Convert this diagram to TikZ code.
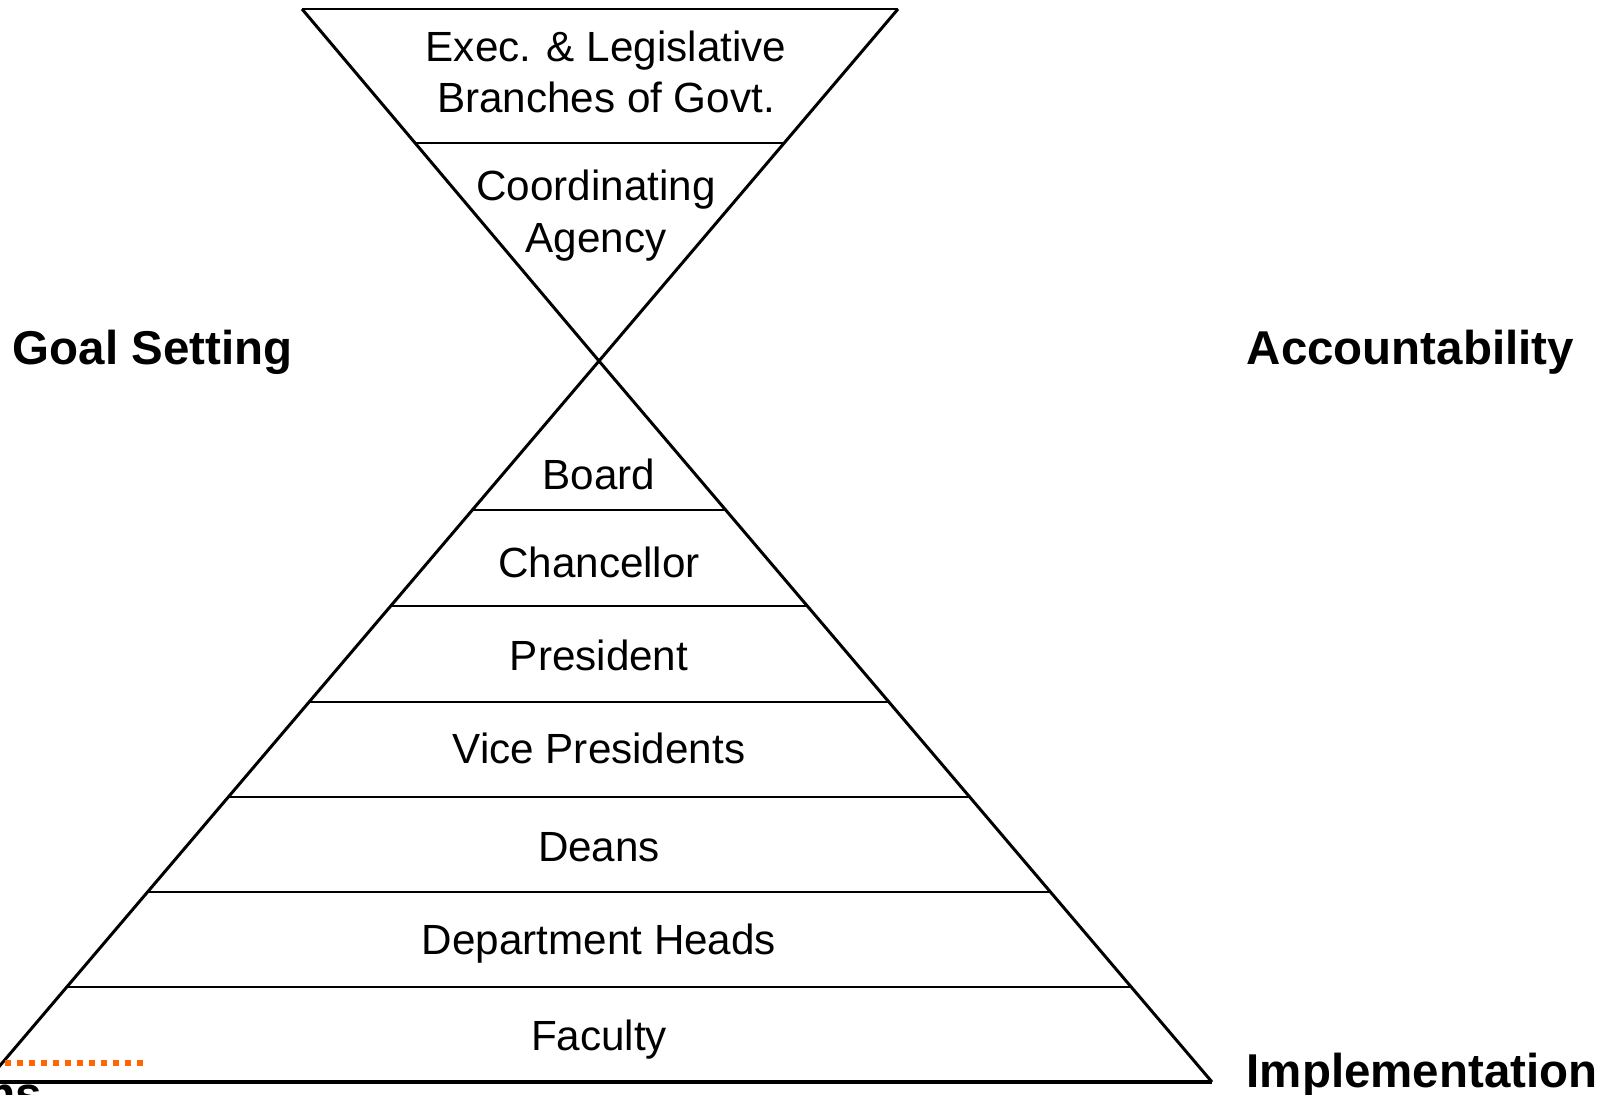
\documentclass[tikz,border=0pt]{standalone}
\usepackage{fontspec}
\setmainfont{Liberation Sans}
\usetikzlibrary{positioning,calc}

\begin{document}
\begin{tikzpicture}[x=0.01cm,y=-0.01cm,
        layer/.style={align=center, anchor=base, inner sep=0pt,
                      font=\fontsize{12}{14.6}\selectfont},
        side/.style={anchor=base west, inner sep=0pt,
                     font=\fontsize{13.5}{16}\selectfont\bfseries},
        edge/.style={line width=0.85pt},
        rung/.style={line width=0.6pt},
        dots/.style={draw=orange!80!red, line width=1.7pt, dash pattern=on 1.7pt off 1.7pt}]

\useasboundingbox (0,0) rectangle (1616,1094);

\coordinate (tl) at (302,9);
\coordinate (tr) at (898,9);
\coordinate (x)  at (599,361);
\coordinate (bl) at (-14,1082);
\coordinate (br) at (1212,1082);

% upper funnel and lower pyramid
\draw[edge] (tl) -- (tr);
\draw[edge] (tl) -- (x) -- (br);
\draw[edge] (tr) -- (x) -- (bl);
\draw[line width=1.1pt] (bl) -- (br);

\draw[rung] ($(x)!{218/352}!(tl)$) -- ($(x)!{218/352}!(tr)$);
\foreach \yy in {510,606,702,797,892,987}
  \draw[rung] ($(x)!{(\yy-361)/721}!(bl)$) -- ($(x)!{(\yy-361)/721}!(br)$);

\node[layer] (govt)   at (606,113) {Exec. \& Legislative\\Branches of Govt.};
\node[layer] (agency) at (596,252) {Coordinating\\Agency};

\node[layer] (board)  at (599,489)  {Board};
\node[layer] (chanc)  at (599,577)  {Chancellor};
\node[layer] (pres)   at (599,670)  {President};
\node[layer] (vp)     at (599,763)  {Vice Presidents};
\node[layer] (deans)  at (599,861)  {Deans};
\node[layer] (heads)  at (599,954)  {Department Heads};
\node[layer] (fac)    at (599,1050) {Faculty};

\node[side] (goal)  at (12,364)    {Goal Setting};
\node[side] (acc)   at (1246,364)  {Accountability};
\node[side] (impl)  at (1246,1087) {Implementation};

\coordinate (d1) at (5,1063);
\coordinate (d2) at (143,1063);
\draw[dots] (d1) -- (d2);
\node[side] (frag) at (-27,1110) {ms};

\end{tikzpicture}
\end{document}
